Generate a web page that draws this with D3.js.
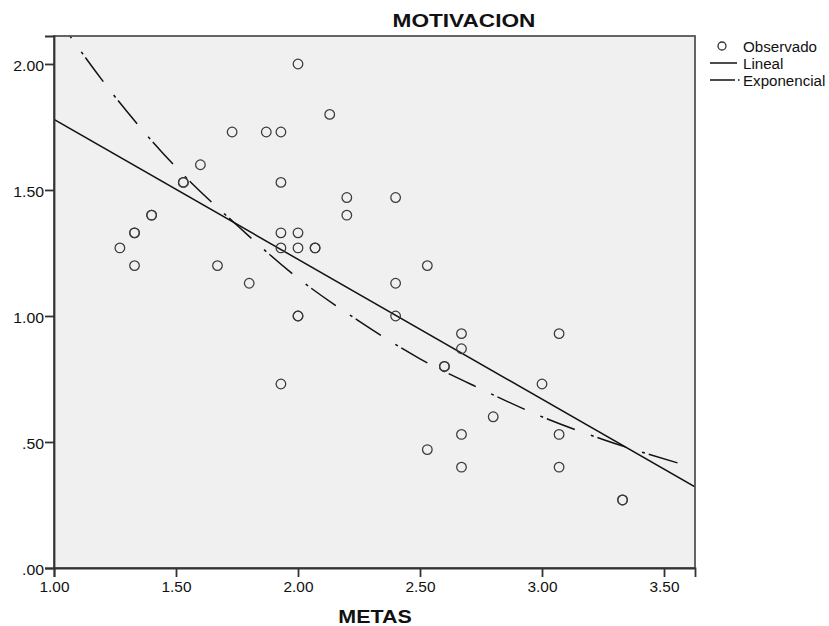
<!DOCTYPE html>
<html>
<head>
<meta charset="utf-8">
<script src="https://cdn.jsdelivr.net/npm/d3@7"></script>
<style>
  body { margin: 0; background: #fff; }
  text { font-family: "Liberation Sans", Arial, sans-serif; fill: #111; }
</style>
</head>
<body>
<div id="chart"></div>
<script>
// observed points (METAS, MOTIVACION); repeated pairs are drawn twice
var metas = [1.27, 1.33, 1.33, 1.33, 1.40, 1.40, 1.53, 1.53, 1.60, 1.67, 1.73, 1.80,
             1.87, 1.93, 1.93, 1.93, 1.93, 1.93, 2.00, 2.00, 2.00, 2.00, 2.00, 2.07, 2.07,
             2.13, 2.20, 2.20, 2.40, 2.40, 2.40, 2.53, 2.53, 2.60, 2.60, 2.67, 2.67, 2.67,
             2.67, 2.80, 3.00, 3.07, 3.07, 3.07, 3.33, 3.33];
var motivacion = [1.27, 1.33, 1.33, 1.20, 1.40, 1.40, 1.53, 1.53, 1.60, 1.20, 1.73, 1.13,
                  1.73, 1.73, 1.53, 1.33, 1.27, 0.73, 2.00, 1.33, 1.27, 1.00, 1.00, 1.27, 1.27,
                  1.80, 1.47, 1.40, 1.47, 1.13, 1.00, 1.20, 0.47, 0.80, 0.80, 0.93, 0.87, 0.53,
                  0.40, 0.60, 0.73, 0.93, 0.53, 0.40, 0.27, 0.27];

// fitted lines
var linealX = [1.00, 3.63];
var linealY = [1.78, 0.32];
var expX = [1.00, 1.25, 1.50, 1.75, 2.00, 2.25, 2.50, 2.75, 3.00, 3.25, 3.58];
var expY = [2.20, 1.87, 1.59, 1.36, 1.15, 0.98, 0.83, 0.71, 0.60, 0.51, 0.41];

var xTicks = [1.0, 1.5, 2.0, 2.5, 3.0, 3.5];
var yTicks = [0.0, 0.5, 1.0, 1.5, 2.0];
var legendLabels = ["Observado", "Lineal", "Exponencial"];

var W = 829, H = 626;
var plotLeft = 54, plotRight = 695, plotTop = 36, plotBottom = 568;
var DASH = "30,17,3,4";

var svg = d3.select("#chart").append("svg")
  .attr("width", W)
  .attr("height", H);

var x = d3.scaleLinear().domain([1, 3.627]).range([plotLeft, plotRight]);
var y = d3.scaleLinear().domain([0, 2.111]).range([plotBottom, plotTop]);

// the picture is a little wider than tall, so texts get stretched
function stretch(sel, f)
{
  sel.each(function() {
    var len = this.getComputedTextLength();
    d3.select(this).attr("textLength", len * f).attr("lengthAdjust", "spacingAndGlyphs");
  });
}

svg.append("rect")
  .attr("x", plotLeft).attr("y", plotTop)
  .attr("width", plotRight - plotLeft).attr("height", plotBottom - plotTop)
  .attr("fill", "#f0f0f0");

svg.append("clipPath").attr("id", "plotclip")
  .append("rect")
  .attr("x", plotLeft).attr("y", plotTop)
  .attr("width", plotRight - plotLeft).attr("height", plotBottom - plotTop);

var plot = svg.append("g").attr("clip-path", "url(#plotclip)");

// linear fit
var line = d3.line()
  .x(function(d) { return x(d[0]); })
  .y(function(d) { return y(d[1]); });

plot.append("path")
  .datum(d3.zip(linealX, linealY))
  .attr("d", line)
  .attr("fill", "none")
  .attr("stroke", "#111")
  .attr("stroke-width", 1.5);

// exponential fit
plot.append("path")
  .datum(d3.zip(expX, expY))
  .attr("d", line.curve(d3.curveMonotoneX))
  .attr("fill", "none")
  .attr("stroke", "#111")
  .attr("stroke-width", 1.5)
  .attr("stroke-dasharray", DASH);

// observed points
plot.selectAll("circle.obs")
  .data(d3.zip(metas, motivacion))
  .enter().append("circle")
  .attr("class", "obs")
  .attr("cx", function(d) { return x(d[0]); })
  .attr("cy", function(d) { return y(d[1]); })
  .attr("r", 4.8)
  .attr("fill", "none")
  .attr("stroke", "#3a3a3a")
  .attr("stroke-width", 1.25);

// frame
svg.append("rect")
  .attr("x", plotLeft).attr("y", plotTop)
  .attr("width", plotRight - plotLeft).attr("height", plotBottom - plotTop)
  .attr("fill", "none")
  .attr("stroke", "#555")
  .attr("stroke-width", 1.8);

// axes
var xAxis = svg.append("g")
  .attr("transform", "translate(0," + plotBottom + ")")
  .call(d3.axisBottom(x).tickValues(xTicks).tickSize(9).tickPadding(5)
    .tickFormat(d3.format(".2f")));

var yAxis = svg.append("g")
  .attr("transform", "translate(" + plotLeft + ",0)")
  .call(d3.axisLeft(y).tickValues(yTicks).tickSize(9).tickPadding(1)
    .tickFormat(function(d) { return d3.format(".2f")(d).replace(/^0\./, "."); }));

[xAxis, yAxis].forEach(function(a) {
  a.select(".domain").attr("stroke", "#333").attr("stroke-width", 1.8);
  a.selectAll(".tick line").attr("stroke", "#333").attr("stroke-width", 1.8);
  a.selectAll(".tick text")
    .attr("font-family", "Liberation Sans, Arial, sans-serif")
    .attr("font-size", 14)
    .attr("fill", "#222");
});
yAxis.selectAll(".tick text").attr("dy", "0.45em");
stretch(xAxis.selectAll(".tick text"), 1.1);
stretch(yAxis.selectAll(".tick text"), 1.13);

// titles
var title = svg.append("text")
  .attr("x", 464).attr("y", 27)
  .attr("text-anchor", "middle")
  .attr("font-size", 19)
  .attr("font-weight", "bold")
  .text("MOTIVACION");
stretch(title, 1.19);

var xTitle = svg.append("text")
  .attr("x", 375).attr("y", 623)
  .attr("text-anchor", "middle")
  .attr("font-size", 18)
  .attr("font-weight", "bold")
  .text("METAS");
stretch(xTitle, 1.19);

// legend
var leg = svg.append("g");
var legY = [52, 69, 86];

leg.append("circle")
  .attr("cx", 722).attr("cy", 46).attr("r", 4)
  .attr("fill", "none").attr("stroke", "#333").attr("stroke-width", 1.3);
leg.append("line")
  .attr("x1", 710).attr("x2", 737).attr("y1", 63).attr("y2", 63)
  .attr("stroke", "#111").attr("stroke-width", 1.5);
leg.append("line")
  .attr("x1", 710).attr("x2", 741).attr("y1", 80).attr("y2", 80)
  .attr("stroke", "#111").attr("stroke-width", 1.5)
  .attr("stroke-dasharray", "25,3,1.5,20");

var legText = leg.selectAll("text")
  .data(legendLabels)
  .enter().append("text")
  .attr("x", 743)
  .attr("y", function(d, i) { return legY[i]; })
  .attr("font-size", 14)
  .text(function(d) { return d; });
stretch(legText, 1.08);
</script>
</body>
</html>
